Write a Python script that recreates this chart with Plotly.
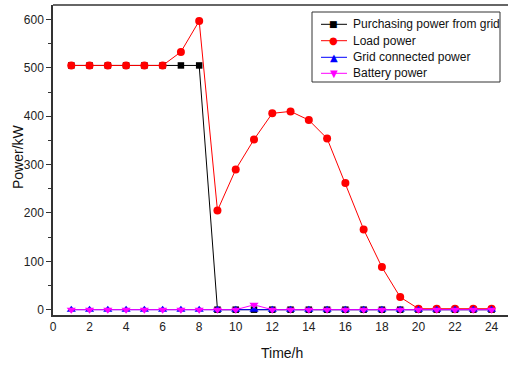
import plotly.graph_objects as go

hours = list(range(1, 25))
purchasing = [505, 505, 505, 505, 505, 505, 505, 505, 0, 0, 0, 0, 0, 0, 0, 0, 0, 0, 0, 0, 0, 0, 0, 0]
load = [505, 505, 505, 505, 505, 505, 533, 597, 205, 290, 352, 406, 410, 392, 354, 262, 166, 88, 26, 2, 2, 2, 2, 2]
grid_connected = [0] * 24
battery = [0, 0, 0, 0, 0, 0, 0, 0, 0, 0, 10, 0, 0, 0, 0, 0, 0, 0, 0, 0, 0, 0, 0, 0]

series_names = ["Purchasing power from grid", "Load power", "Grid connected power", "Battery power"]
series_colors = ["black", "red", "blue", "magenta"]
series_symbols = ["square", "circle", "triangle-up", "triangle-down"]
legend_glyphs = ["■", "●", "▲", "▼"]
legend_glyph_sizes = [9, 10, 10, 10]

x_ticks = list(range(0, 25, 2))
y_ticks = [0, 100, 200, 300, 400, 500, 600]

fig = go.Figure()
for ys, name, col, sym in zip([purchasing, load, grid_connected, battery],
                              series_names, series_colors, series_symbols):
    size = 6.5 if sym == "square" else 8
    fig.add_trace(go.Scatter(x=hours, y=ys, mode="lines+markers", name=name, showlegend=False,
                             line=dict(color=col, width=1),
                             marker=dict(symbol=sym, size=size, color=col)))

W, H = 508, 365
L, R, T, B = 53, 0, 5, 50
plot_w = W - L - R
plot_h = H - T - B


def px(xp):
    return (xp - L) / plot_w


def py(yp):
    return ((H - B) - yp) / plot_h


fig.update_layout(
    width=W, height=H,
    margin=dict(l=L, r=R, t=T, b=B, autoexpand=False),
    paper_bgcolor="white", plot_bgcolor="white",
    font=dict(family="Liberation Sans, Arial, sans-serif", size=12, color="#222"),
    showlegend=False,
    xaxis=dict(range=[0, 24.9], tickvals=x_ticks, showgrid=False, zeroline=False,
               showline=True, linecolor="#333", linewidth=1.5, mirror=False,
               ticks="", tickfont=dict(size=12), automargin=False),
    yaxis=dict(range=[-11, 630], tickvals=y_ticks, showgrid=False, zeroline=False,
               showline=True, linecolor="#333", linewidth=1.5,
               ticks="outside", ticklen=5, tickcolor="#333",
               minor=dict(ticks="outside", ticklen=3, tickcolor="#333", dtick=50),
               tickfont=dict(size=12), automargin=False),
)
# top border line
fig.add_shape(type="line", xref="paper", yref="paper", x0=0, x1=1, y0=1, y1=1,
              line=dict(color="#333", width=1.5))

# axis titles
fig.add_annotation(text="Time/h", xref="paper", yref="paper", x=px(282), y=py(353),
                   xanchor="center", yanchor="middle", showarrow=False,
                   font=dict(size=14, color="#111"))
fig.add_annotation(text="Power/kW", xref="paper", yref="paper", x=px(18), y=py(157),
                   xanchor="center", yanchor="middle", showarrow=False, textangle=-90,
                   font=dict(size=14, color="#111"))

# legend
fig.add_shape(type="rect", xref="paper", yref="paper", x0=px(312), x1=px(500), y0=py(12), y1=py(82),
              line=dict(color="#333", width=1), fillcolor="white", layer="above")
row_y = [24.3, 40.7, 57.3, 73.3]
for yy, name, col, g, gs in zip(row_y, series_names, series_colors, legend_glyphs, legend_glyph_sizes):
    fig.add_shape(type="line", xref="paper", yref="paper", x0=px(321), x1=px(347), y0=py(yy), y1=py(yy),
                  line=dict(color=col, width=1), layer="above")
    fig.add_annotation(text=g, xref="paper", yref="paper", x=px(333.5), y=py(yy),
                       xanchor="center", yanchor="middle", showarrow=False,
                       font=dict(size=gs, color=col, family="DejaVu Sans"))
    fig.add_annotation(text=name, xref="paper", yref="paper", x=px(351), y=py(yy),
                       xanchor="left", yanchor="middle", showarrow=False,
                       font=dict(size=12, color="#111"))

fig.write_html("out.html", config={"displayModeBar": False},
               post_script="document.body.style.margin='0';document.body.style.overflow='hidden';")
